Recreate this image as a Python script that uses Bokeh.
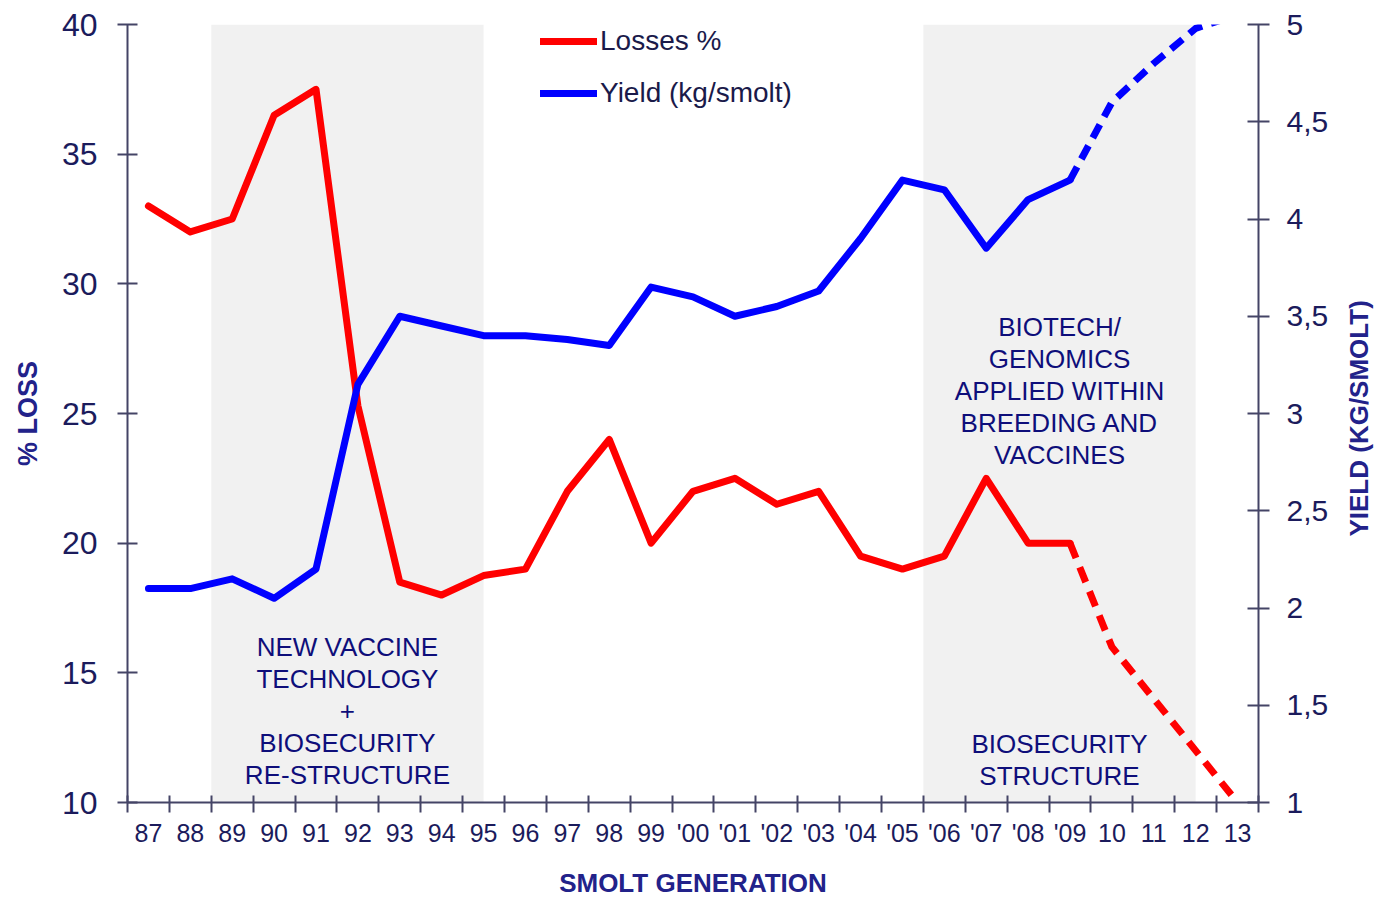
import math
from bokeh.plotting import figure
from bokeh.layouts import row
from bokeh.core.properties import value
from bokeh.models import (Range1d, LinearAxis, FixedTicker, CustomJSTickFormatter,
                          BoxAnnotation, Legend, LegendItem, Label)
from bokeh.embed import file_html
from bokeh.resources import INLINE

# ---------------- data ----------------
generations = ["87", "88", "89", "90", "91", "92", "93", "94", "95", "96", "97", "98", "99",
               "'00", "'01", "'02", "'03", "'04", "'05", "'06", "'07", "'08", "'09",
               "10", "11", "12", "13"]
losses = [33.0, 32.0, 32.5, 36.5, 37.5, 25.3, 18.5, 18.0, 18.75, 19.0, 22.0, 24.0, 20.0,
          22.0, 22.5, 21.5, 22.0, 19.5, 19.0, 19.5, 22.5, 20.0, 20.0,
          16.0, 14.0, 12.0, 10.0]
yield_kg = [2.10, 2.10, 2.15, 2.05, 2.20, 3.15, 3.50, 3.45, 3.40, 3.40, 3.38, 3.35, 3.65,
            3.60, 3.50, 3.55, 3.63, 3.90, 4.20, 4.15, 3.85, 4.10, 4.20,
            4.60, 4.80, 4.98, 5.05]
last_measured = "'09"          # after this generation values are projections (dashed)
loss_ticks = [10, 15, 20, 25, 30, 35, 40]
yield_ticks = [1, 1.5, 2, 2.5, 3, 3.5, 4, 4.5, 5]
periods = [("89", "95"), ("'06", "12")]   # shaded periods (first / last generation)
period_texts = [["NEW VACCINE", "TECHNOLOGY", "+", "BIOSECURITY", "RE-STRUCTURE"],
                ["BIOTECH/", "GENOMICS", "APPLIED WITHIN", "BREEDING AND", "VACCINES"],
                ["BIOSECURITY", "STRUCTURE"]]
right_title = "YIELD (KG/SMOLT)"

# ---------------- styling ----------------
FONT = "Liberation Sans"
NAVY = "#1b1b5c"
TITLE_NAVY = "#22228a"
NOTE_NAVY = "#0e0e7a"
AXIS_COL = "#444466"

xs = list(range(len(generations)))
split = generations.index(last_measured)

p = figure(width=1345, height=900,
           x_range=Range1d(-0.5, len(generations) - 0.5),
           y_range=Range1d(10, 40),
           output_backend="svg", toolbar_location=None,
           min_border_left=127, min_border_right=87,
           min_border_top=24, min_border_bottom=98)
p.extra_y_ranges = {"yield": Range1d(1, 5)}
p.xgrid.visible = False
p.ygrid.visible = False
p.outline_line_color = None
p.background_fill_color = "white"

# shaded periods
for a, b in periods:
    p.add_layout(BoxAnnotation(left=generations.index(a) - 0.5, right=generations.index(b),
                               fill_color="#f1f1f1", fill_alpha=1.0,
                               line_color=None, level="underlay"))

# lines
red_solid = p.line(xs[:split + 1], losses[:split + 1], line_color="#ff0000",
                   line_width=7, line_join="round", line_cap="round")
p.line(xs[split:], losses[split:], line_color="#ff0000", line_width=7,
       line_dash="16 10", line_join="round")
blue_solid = p.line(xs[:split + 1], yield_kg[:split + 1], line_color="#0000ff",
                    line_width=7, line_join="round", line_cap="round", y_range_name="yield")
p.line(xs[split:], yield_kg[split:], line_color="#0000ff", line_width=7,
       line_dash="15 9", line_join="round", y_range_name="yield")

# period texts
def add_block(lines, xc, top_val, step=32 * 30 / 778):
    for i, t in enumerate(lines):
        p.add_layout(Label(x=xc, y=top_val - i * step, text=t, text_align="center",
                           text_baseline="middle", text_font=FONT,
                           text_font_size="26px", text_color=NOTE_NAVY))

c1 = (generations.index(periods[0][0]) - 0.5 + generations.index(periods[0][1])) / 2
c2 = (generations.index(periods[1][0]) - 0.5 + generations.index(periods[1][1])) / 2
add_block(period_texts[0], c1, 15.98)
add_block(period_texts[1], c2, 28.32)
add_block(period_texts[2], c2, 12.27)

# x axis
xax = p.xaxis[0]
xax.ticker = FixedTicker(ticks=xs, minor_ticks=[i - 0.5 for i in range(len(generations) + 1)])
xax.formatter = CustomJSTickFormatter(args=dict(labels=generations),
                                      code="return labels[Math.round(tick)];")
xax.major_tick_line_color = None
xax.minor_tick_line_color = AXIS_COL
xax.minor_tick_line_width = 2
xax.minor_tick_in = 7
xax.minor_tick_out = 10
xax.axis_line_color = AXIS_COL
xax.axis_line_width = 2
xax.major_label_standoff = 6
xax.major_label_text_font = FONT
xax.major_label_text_font_size = "25px"
xax.major_label_text_color = NAVY
xax.axis_label = "SMOLT GENERATION"
xax.axis_label_text_font = FONT
xax.axis_label_text_font_style = "bold"
xax.axis_label_text_font_size = "26px"
xax.axis_label_text_color = TITLE_NAVY
xax.axis_label_standoff = 18

# left axis
yax = p.yaxis[0]
yax.ticker = FixedTicker(ticks=loss_ticks, minor_ticks=[])
yax.major_tick_in = 10
yax.major_tick_out = 10
yax.major_tick_line_color = AXIS_COL
yax.major_tick_line_width = 2
yax.minor_tick_line_color = None
yax.axis_line_color = AXIS_COL
yax.axis_line_width = 2
yax.major_label_standoff = 20
yax.major_label_text_font = FONT
yax.major_label_text_font_size = "32px"
yax.major_label_text_color = NAVY
yax.axis_label = "% LOSS"
yax.axis_label_text_font = FONT
yax.axis_label_text_font_style = "bold"
yax.axis_label_text_font_size = "27px"
yax.axis_label_text_color = TITLE_NAVY
yax.axis_label_standoff = 16

# right axis
rax = LinearAxis(y_range_name="yield",
                 ticker=FixedTicker(ticks=yield_ticks, minor_ticks=[]),
                 formatter=CustomJSTickFormatter(code="return tick.toString().replace('.', ',');"))
rax.major_tick_in = 11
rax.major_tick_out = 11
rax.major_tick_line_color = AXIS_COL
rax.major_tick_line_width = 2
rax.minor_tick_line_color = None
rax.axis_line_color = AXIS_COL
rax.axis_line_width = 2
rax.major_label_standoff = 17
rax.major_label_text_font = FONT
rax.major_label_text_font_size = "30px"
rax.major_label_text_color = NAVY
p.add_layout(rax, "right")

# legend
legend = Legend(items=[LegendItem(label="Losses %", renderers=[red_solid]),
                       LegendItem(label="Yield (kg/smolt)", renderers=[blue_solid])],
                location=(413, 692), orientation="vertical",
                glyph_width=57, glyph_height=34, label_height=34, spacing=18,
                label_standoff=3, padding=0, margin=0,
                border_line_color=None, background_fill_alpha=0,
                label_text_font=FONT, label_text_font_size="28px",
                label_text_color="#1a1a4a")
p.add_layout(legend, "center")

# narrow strip holding the right axis title (reads bottom-to-top)
t = figure(width=33, height=900, x_range=Range1d(0, 1), y_range=p.extra_y_ranges["yield"],
           output_backend="svg", toolbar_location=None,
           x_axis_location=None, y_axis_location=None,
           min_border_left=0, min_border_right=0, min_border_top=24, min_border_bottom=98)
t.xgrid.visible = False
t.ygrid.visible = False
t.outline_line_color = None
t.text(x=[0.4], y=[(yield_ticks[0] + yield_ticks[-1]) / 2 - 0.025], text=[right_title],
       angle=math.pi / 2, text_align="center", text_baseline="middle",
       text_font=value(FONT), text_font_style="bold", text_font_size="26px",
       text_color=TITLE_NAVY)

layout = row(p, t, spacing=0)
open("out.html", "w").write(file_html(layout, INLINE))
